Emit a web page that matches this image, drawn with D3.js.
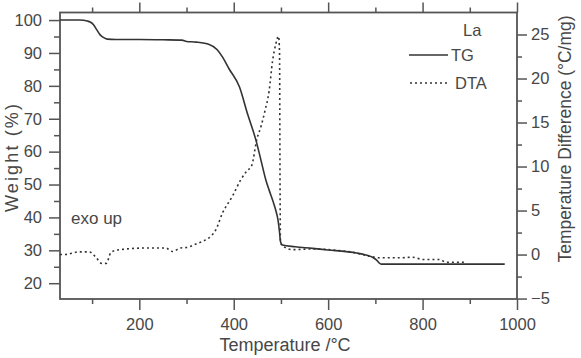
<!DOCTYPE html>
<html>
<head>
<meta charset="utf-8">
<script src="https://cdn.jsdelivr.net/npm/d3@7"></script>
<style>
  html, body { margin: 0; padding: 0; background: #fff; }
  svg { display: block; }
  text { font-family: "Liberation Sans", Arial, sans-serif; fill: #474747; }
</style>
</head>
<body>
<svg id="chart" width="581" height="358"></svg>
<script>
// ---- Data ----
const tgTemp = [32, 74, 90, 96, 103, 110, 117, 123, 132, 150, 200, 250, 290, 300, 320, 348, 365, 376, 390, 412,
                429, 447, 458, 468, 475, 483, 489, 494, 497, 499, 503, 530, 567, 600, 638, 660, 680, 695, 702, 708,
                712, 750, 800, 900, 974];
const tgWeight = [100, 100, 99.7, 99.4, 98.6, 97, 95.5, 94.8, 94.2, 94.1, 94.1, 94.0, 93.9, 93.5, 93.3, 92.6, 91.0, 88.8, 85.2, 79.7,
                  71.6, 63.5, 57.2, 51.4, 48.3, 45.0, 42.2, 39.0, 35.5, 32.7, 31.6, 31.1, 30.6, 30.1, 29.6, 29.2, 28.6, 27.8, 27.1, 26.2,
                  25.8, 25.8, 25.8, 25.8, 25.8];

const dtaTemp = [32, 42, 72, 94, 108, 120, 130, 140, 157, 221, 256, 270, 288, 300, 320, 334, 352, 362, 376, 397,
                 415, 428, 438, 449, 458, 466, 475, 482, 489, 495, 497, 498, 499, 503, 525, 567, 624, 652, 694, 709,
                 751, 779, 800, 836, 850, 892];
const dtaValue = [0, 0, 0.3, 0.3, -0.3, -1.0, -1.0, 0.25, 0.55, 0.75, 0.75, 0.35, 0.75, 0.8, 1.2, 1.5, 2.1, 2.8, 4.7, 6.6,
                  8.5, 9.5, 10.1, 13.1, 14.6, 16.3, 18.6, 21.9, 23.9, 24.8, 23.0, 9.0, 1.5, 1.0, 0.56, 0.64, 0.45, 0.26, -0.26, -0.37,
                  -0.37, -0.3, -0.56, -0.56, -0.87, -0.87];

const xMajor = [200, 400, 600, 800, 1000];
const xMinor = [100, 300, 500, 700, 900];
const yLeftMajor = [20, 30, 40, 50, 60, 70, 80, 90, 100];
const yLeftMinor = [25, 35, 45, 55, 65, 75, 85, 95];
const yRightMajor = [-5, 0, 5, 10, 15, 20, 25];
const yRightMinor = [-2.5, 2.5, 7.5, 12.5, 17.5, 22.5];

const xLabel = "Temperature /°C";
const yLeftLabel = "Weight (%)";
const yRightLabel = "Temperature Difference (°C/mg)";
const legendTitle = "La";
const seriesNames = ["TG", "DTA"];
const annotation = "exo up";

// ---- Layout ----
const svg = d3.select("#chart");
const L = 60, R = 517, T = 12.5, B = 299;
const axisColor = "#555";
const lineColor = "#333";

const x = d3.scaleLinear().domain([32, 1000]).range([L, R]);
const yL = d3.scaleLinear().domain([15.2, 102.3]).range([B, T]);
const yR = d3.scaleLinear().domain([-5.05, 27.5]).range([B, T]);

function styleAxis(g) {
  g.select(".domain").remove();
  g.selectAll("line").attr("stroke", axisColor).attr("stroke-width", 1.5);
  g.selectAll("text").style("font-size", "16.5px").attr("fill", "#474747");
}

// minor ticks
svg.append("g").attr("transform", `translate(0,${B})`)
  .call(d3.axisBottom(x).tickValues(xMinor).tickSize(5).tickFormat("")).call(styleAxis);
svg.append("g").attr("transform", `translate(0,${T})`)
  .call(d3.axisTop(x).tickValues(xMinor).tickSize(5).tickFormat("")).call(styleAxis);
svg.append("g").attr("transform", `translate(${L},0)`)
  .call(d3.axisLeft(yL).tickValues(yLeftMinor).tickSize(6).tickFormat("")).call(styleAxis);
svg.append("g").attr("transform", `translate(${R},0)`)
  .call(d3.axisRight(yR).tickValues(yRightMinor).tickSize(5).tickFormat("")).call(styleAxis);

// major ticks
svg.append("g").attr("transform", `translate(0,${B})`)
  .call(d3.axisBottom(x).tickValues(xMajor).tickSize(11).tickPadding(8).tickFormat(d3.format("d"))).call(styleAxis);
svg.append("g").attr("transform", `translate(0,${T})`)
  .call(d3.axisTop(x).tickValues(xMajor).tickSize(10).tickFormat("")).call(styleAxis);
svg.append("g").attr("transform", `translate(${L},0)`)
  .call(d3.axisLeft(yL).tickValues(yLeftMajor).tickSize(11).tickPadding(7).tickFormat(d3.format("d"))).call(styleAxis);
svg.append("g").attr("transform", `translate(${R},0)`)
  .call(d3.axisRight(yR).tickValues(yRightMajor).tickSize(10).tickPadding(4).tickFormat(d3.format("d"))).call(styleAxis);

// frame
svg.append("rect").attr("x", L).attr("y", T).attr("width", R - L).attr("height", B - T)
  .attr("fill", "none").attr("stroke", axisColor).attr("stroke-width", 1.8);

// lines
const tgData = tgTemp.map((t, i) => [t, tgWeight[i]]);
const dtaData = dtaTemp.map((t, i) => [t, dtaValue[i]]);

svg.append("path").datum(dtaData)
  .attr("fill", "none").attr("stroke", lineColor).attr("stroke-width", 1.6)
  .attr("stroke-dasharray", "2,3")
  .attr("d", d3.line().curve(d3.curveMonotoneX).x(d => x(d[0])).y(d => yR(d[1])));

svg.append("path").datum(tgData)
  .attr("fill", "none").attr("stroke", lineColor).attr("stroke-width", 1.6)
  .attr("d", d3.line().curve(d3.curveMonotoneX).x(d => x(d[0])).y(d => yL(d[1])));

// axis titles
svg.append("text").attr("x", 285).attr("y", 351).attr("text-anchor", "middle")
  .style("font-size", "18px").text(xLabel);
svg.append("text").attr("transform", "translate(18,158) rotate(-90)").attr("text-anchor", "middle")
  .style("font-size", "18px").attr("textLength", 108).attr("lengthAdjust", "spacing").text(yLeftLabel);
svg.append("text").attr("transform", "translate(571,139) rotate(-90)").attr("text-anchor", "middle")
  .style("font-size", "17.5px").attr("textLength", 247).attr("lengthAdjust", "spacingAndGlyphs").text(yRightLabel);

// annotation
svg.append("text").attr("x", 71).attr("y", 224).style("font-size", "17px").text(annotation);

// legend
svg.append("text").attr("x", 463).attr("y", 36).style("font-size", "16.5px").text(legendTitle);
svg.append("line").attr("x1", 409).attr("x2", 448).attr("y1", 55).attr("y2", 55)
  .attr("stroke", lineColor).attr("stroke-width", 1.6);
svg.append("text").attr("x", 451).attr("y", 61).style("font-size", "16.5px").text(seriesNames[0]);
svg.append("line").attr("x1", 410).attr("x2", 448).attr("y1", 83).attr("y2", 83)
  .attr("stroke", lineColor).attr("stroke-width", 1.6).attr("stroke-dasharray", "2,3");
svg.append("text").attr("x", 455).attr("y", 89).style("font-size", "16.5px").text(seriesNames[1]);
</script>
</body>
</html>
